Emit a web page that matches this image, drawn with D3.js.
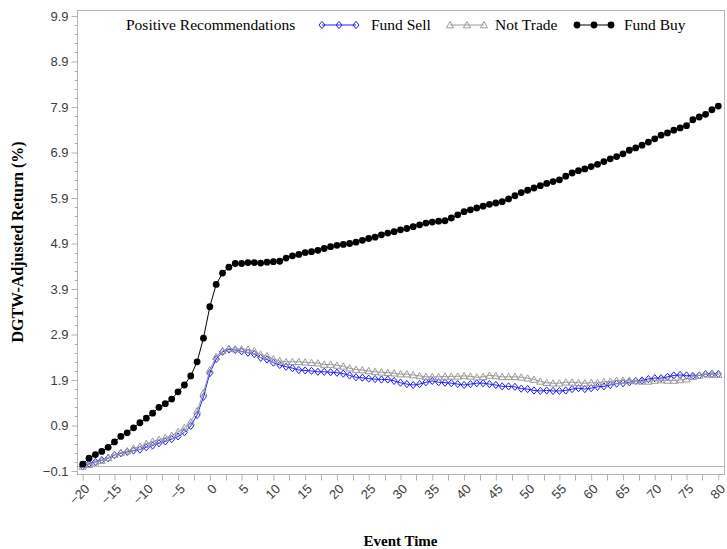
<!DOCTYPE html>
<html>
<head>
<meta charset="utf-8">
<script src="https://cdn.jsdelivr.net/npm/d3@7"></script>
<style>
  body { margin: 0; background: #fff; }
</style>
</head>
<body>
<script>
var WIDTH = 727;
var HEIGHT = 549;

var eventTime = d3.range(-20, 81);

var fundSell = [
    0.00, 0.06, 0.10, 0.14, 0.18, 0.25, 0.29, 0.32, 0.35, 0.37,
    0.42, 0.46, 0.51, 0.55, 0.60, 0.66, 0.75, 0.89, 1.13, 1.53,
    2.05, 2.36, 2.52, 2.57, 2.56, 2.53, 2.50, 2.47, 2.39, 2.35,
    2.28, 2.23, 2.19, 2.16, 2.12, 2.11, 2.10, 2.08, 2.08, 2.07,
    2.06, 2.04, 2.00, 1.96, 1.95, 1.93, 1.92, 1.91, 1.91, 1.88,
    1.84, 1.81, 1.79, 1.81, 1.85, 1.88, 1.85, 1.84, 1.83, 1.81,
    1.79, 1.81, 1.83, 1.83, 1.81, 1.79, 1.76, 1.76, 1.75, 1.71,
    1.70, 1.67, 1.66, 1.67, 1.66, 1.66, 1.67, 1.70, 1.72, 1.70,
    1.72, 1.75, 1.76, 1.79, 1.82, 1.83, 1.85, 1.88, 1.89, 1.92,
    1.94, 1.94, 1.97, 2.00, 2.01, 2.00, 1.99, 2.00, 2.03, 2.03,
    2.03
];

var notTrade = [
    0.00, 0.04, 0.09, 0.13, 0.19, 0.26, 0.30, 0.34, 0.40, 0.44,
    0.50, 0.55, 0.59, 0.63, 0.68, 0.76, 0.85, 0.98, 1.22, 1.62,
    2.12, 2.41, 2.54, 2.59, 2.58, 2.58, 2.57, 2.54, 2.46, 2.43,
    2.36, 2.32, 2.30, 2.30, 2.30, 2.29, 2.28, 2.27, 2.24, 2.24,
    2.22, 2.20, 2.16, 2.13, 2.12, 2.10, 2.08, 2.07, 2.06, 2.05,
    2.03, 2.03, 2.01, 1.99, 1.97, 1.97, 1.97, 1.98, 1.98, 1.98,
    1.99, 1.98, 1.96, 1.97, 2.00, 1.99, 1.97, 1.97, 1.97, 1.96,
    1.94, 1.91, 1.87, 1.84, 1.83, 1.83, 1.85, 1.85, 1.84, 1.83,
    1.84, 1.84, 1.86, 1.87, 1.89, 1.89, 1.89, 1.88, 1.87, 1.87,
    1.89, 1.90, 1.89, 1.89, 1.90, 1.92, 1.97, 2.00, 2.03, 2.02,
    2.02
];

var fundBuy = [
    0.05, 0.18, 0.26, 0.33, 0.42, 0.54, 0.66, 0.74, 0.85, 0.96,
    1.06, 1.17, 1.30, 1.38, 1.48, 1.64, 1.79, 1.99, 2.30, 2.82,
    3.51, 4.00, 4.25, 4.38, 4.46, 4.46, 4.48, 4.48, 4.47, 4.49,
    4.50, 4.51, 4.58, 4.63, 4.66, 4.70, 4.72, 4.75, 4.79, 4.83,
    4.86, 4.88, 4.90, 4.93, 4.97, 5.01, 5.04, 5.09, 5.13, 5.16,
    5.20, 5.23, 5.27, 5.31, 5.35, 5.37, 5.39, 5.40, 5.46, 5.53,
    5.60, 5.64, 5.68, 5.72, 5.76, 5.79, 5.82, 5.88, 5.95, 6.02,
    6.07, 6.12, 6.17, 6.22, 6.26, 6.30, 6.38, 6.45, 6.50, 6.54,
    6.59, 6.64, 6.70, 6.76, 6.81, 6.87, 6.95, 7.00, 7.06, 7.13,
    7.20, 7.28, 7.33, 7.39, 7.44, 7.49, 7.62, 7.68, 7.74, 7.84,
    7.92
];

var yTicks = [-0.1, 0.9, 1.9, 2.9, 3.9, 4.9, 5.9, 6.9, 7.9, 8.9, 9.9];
var xTicks = d3.range(-20, 81, 5);

var FRAME = {left: 77, top: 10, right: 724, bottom: 474};
var COLOR_FRAME = "#b4b4b4";
var COLOR_TEXT = "#3c3c3c";

var series = [
    {name: 'Fund Sell', values: fundSell, color: '#1f1fff', marker: 'diamond'},
    {name: 'Not Trade', values: notTrade, color: '#9a9a9a', marker: 'triangle'},
    {name: 'Fund Buy', values: fundBuy, color: '#000000', marker: 'circle'}
];

var x = d3.scaleLinear().domain([-20, 80]).range([82.7, 718.3]);
var y = d3.scaleLinear().domain([-0.1, 9.9]).range([471, 16]);

var svg = d3.select('body')
        .append('svg')
            .attr('width', WIDTH)
            .attr('height', HEIGHT);

// frame
svg.append('rect')
    .attr('x', FRAME.left + 0.5)
    .attr('y', FRAME.top + 0.5)
    .attr('width', FRAME.right - FRAME.left)
    .attr('height', FRAME.bottom - FRAME.top)
    .style('fill', 'none')
    .style('stroke', COLOR_FRAME);

// reference line at zero
svg.append('line')
    .attr('x1', FRAME.left).attr('x2', FRAME.right)
    .attr('y1', Math.round(y(0)) + 0.5).attr('y2', Math.round(y(0)) + 0.5)
    .style('stroke', COLOR_FRAME);

// y axis
var yAxis = d3.axisLeft(y)
        .tickValues(yTicks)
        .tickFormat(d3.format('.1f'))
        .tickSize(6)
        .tickPadding(3);
var yg = svg.append('g')
        .attr('transform', 'translate(' + (FRAME.left + 0.5) + ',0)')
        .call(yAxis);

var yMinor = [];
yTicks.slice(0, -1).forEach(function (t) {
    [0.2, 0.4, 0.6, 0.8].forEach(function (s) { yMinor.push(t + s); });
});
yg.selectAll('.minor')
    .data(yMinor)
    .enter()
    .append('line')
        .attr('class', 'minor')
        .attr('x1', -3).attr('x2', 0)
        .attr('y1', function (d) { return Math.round(y(d)) + 0.5; })
        .attr('y2', function (d) { return Math.round(y(d)) + 0.5; })
        .style('stroke', COLOR_FRAME);

// x axis
var xAxis = d3.axisBottom(x)
        .tickValues(xTicks)
        .tickFormat(d3.format('d'))
        .tickSize(6);
var xg = svg.append('g')
        .attr('transform', 'translate(0,' + (FRAME.bottom + 0.5) + ')')
        .call(xAxis);

var xMinor = xTicks.slice(0, -1).map(function (t) { return t + 2.5; });
xg.selectAll('.minor')
    .data(xMinor)
    .enter()
    .append('line')
        .attr('class', 'minor')
        .attr('y1', 0).attr('y2', 6)
        .attr('x1', function (d) { return Math.round(x(d)) + 0.5; })
        .attr('x2', function (d) { return Math.round(x(d)) + 0.5; })
        .style('stroke', COLOR_FRAME);

xg.selectAll('.tick text')
    .attr('transform', 'translate(4,12) rotate(-45)')
    .attr('text-anchor', 'end')
    .attr('dy', '0.35em')
    .attr('y', 0)
    .attr('x', 0);

[yg, xg].forEach(function (g) {
    g.select('.domain').remove();
    g.selectAll('.tick line').style('stroke', COLOR_FRAME);
    g.selectAll('.tick text')
        .style('font-family', '"Liberation Sans", Arial, sans-serif')
        .style('font-size', '13px')
        .style('fill', COLOR_TEXT);
});

// axis titles
svg.append('text')
    .attr('x', (FRAME.left + FRAME.right) / 2)
    .attr('y', 546)
    .attr('text-anchor', 'middle')
    .style('font-family', '"Liberation Serif", "Times New Roman", serif')
    .style('font-weight', 'bold')
    .style('font-size', '15px')
    .text('Event Time');

svg.append('text')
    .attr('transform', 'translate(23,' + ((FRAME.top + FRAME.bottom) / 2) + ') rotate(-90)')
    .attr('text-anchor', 'middle')
    .style('font-family', '"Liberation Serif", "Times New Roman", serif')
    .style('font-weight', 'bold')
    .style('font-size', '16px')
    .text('DGTW-Adjusted Return (%)');

// markers
function drawMarker(g, kind, color) {
    if (kind == 'circle') {
        g.append('circle').attr('r', 3.4).style('fill', color);
    } else if (kind == 'diamond') {
        g.append('path').attr('d', 'M0,-3.6L3,0L0,3.6L-3,0Z')
            .style('fill', 'none').style('stroke', color).style('stroke-width', 1);
    } else {
        g.append('path').attr('d', 'M0,-3.5L3.6,2.8L-3.6,2.8Z')
            .style('fill', 'none').style('stroke', color).style('stroke-width', 1);
    }
}

var line = d3.line()
        .x(function (d, i) { return x(eventTime[i]); })
        .y(function (d) { return y(d); });

series.forEach(function (s) {
    svg.append('path')
        .datum(s.values)
        .attr('d', line)
        .style('fill', 'none')
        .style('stroke', s.color)
        .style('stroke-width', 1);

    svg.append('g').selectAll('g')
        .data(s.values)
        .enter()
        .append('g')
            .attr('transform', function (d, i) { return 'translate(' + x(eventTime[i]) + ',' + y(d) + ')'; })
            .each(function () { drawMarker(d3.select(this), s.marker, s.color); });
});

// legend
var legendFont = '"Liberation Serif", "Times New Roman", serif';
svg.append('text')
    .attr('x', 126).attr('y', 30)
    .style('font-family', legendFont)
    .style('font-size', '15.5px')
    .text('Positive Recommendations');

var legendPos = [
    {sx: 322, tx: 371},
    {sx: 450, tx: 495},
    {sx: 577, tx: 624}
];
series.forEach(function (s, i) {
    var lg = svg.append('g');
    var p = legendPos[i];
    lg.append('line')
        .attr('x1', p.sx).attr('x2', p.sx + 34)
        .attr('y1', 25).attr('y2', 25)
        .style('stroke', s.color);
    [0, 17, 34].forEach(function (dx) {
        var m = lg.append('g').attr('transform', 'translate(' + (p.sx + dx) + ',25)');
        drawMarker(m, s.marker, s.color);
    });
    lg.append('text')
        .attr('x', p.tx).attr('y', 30)
        .style('font-family', legendFont)
        .style('font-size', '15.5px')
        .text(s.name);
});
</script>
</body>
</html>
